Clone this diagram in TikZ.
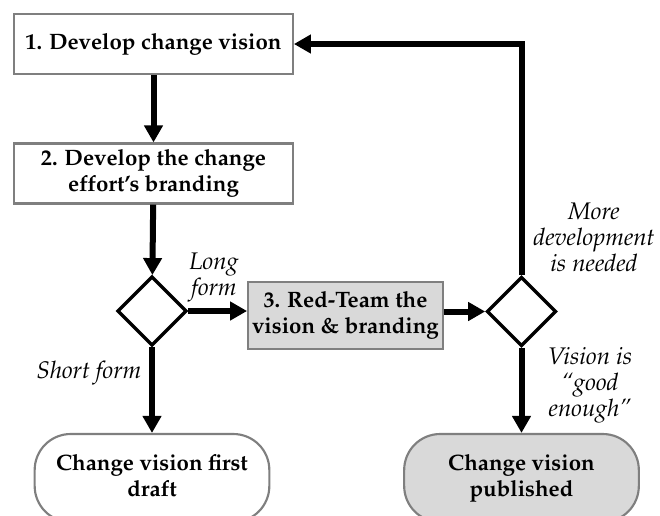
\documentclass[tikz,border=0pt]{standalone}
\usepackage[T1]{fontenc}
\usepackage{mathpazo}
\usetikzlibrary{shapes.geometric,arrows.meta}
\definecolor{boxgray}{HTML}{7F7F7F}
\definecolor{fillgray}{HTML}{D9D9D9}
\newcommand{\lbl}{\fontsize{16.7}{19.5}\selectfont}
\newcommand{\condfont}{\fontsize{18}{19.5}\selectfont}

\begin{document}
\begin{tikzpicture}[x=0.75pt,y=-0.75pt,
  proc/.style={rectangle,draw=boxgray,line width=1.6pt,minimum width=209pt,minimum height=45pt,inner sep=2pt,align=center,font=\lbl\bfseries},
  decide/.style={diamond,draw=black,line width=2.5pt,aspect=1,inner sep=0pt,minimum size=52pt},
  term/.style={rectangle,rounded corners=27pt,draw=boxgray,line width=1.6pt,minimum width=176pt,minimum height=66pt,align=center,font=\lbl\bfseries,text depth=4pt},
  flow/.style={line width=4.5pt,-{Triangle[length=12.75pt,width=13.5pt]}},
  cond/.style={align=center,font=\condfont\itshape,inner sep=0pt}]
\clip (0,0) rectangle (660,515);
\node[proc](vision) at (153.5,44) {1. Develop change vision};
\node[proc](brand) at (153.5,173.5) {2. Develop the change\\effort's branding};
\node[decide](form) at (152,311) {};
\node[proc,fill=fillgray,minimum width=146pt,minimum height=50pt](redteam) at (345.5,315.5) {3. Red-Team the\\vision \& branding};
\node[decide](good) at (521.5,311.5) {};
\node[term](draft) at (152,478) {Change vision first\\draft};
\node[term,fill=fillgray](published) at (521.5,478) {Change vision\\published};

\node[cond](long) at (214,277) {Long\\form};
\node[cond](short) at (89,373) {Short form};
\node[cond](more) at (594,237) {More\\development\\is needed};
\node[cond](enough) at (590,385) {Vision is\\``good\\enough''};

\draw[flow] (vision) -- (brand);
\draw[flow] (brand) -- (form);
\draw[flow] (form.east) -- (form.east -| redteam.west);
\draw[flow] (redteam.east |- good) -- (good.west);
\draw[flow] (form) -- (draft);
\draw[flow] (good) -- (published);
\draw[flow] (good.north) |- (vision.east);
\end{tikzpicture}
\end{document}
